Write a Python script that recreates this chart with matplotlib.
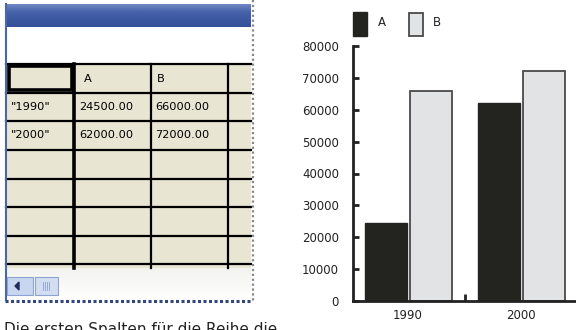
import matplotlib
matplotlib.use("Agg")
import matplotlib.pyplot as plt
from matplotlib.patches import Rectangle
from matplotlib.colors import LinearSegmentedColormap
import numpy as np

# ---- data ----
categories = ["1990", "2000"]
series_names = ["A", "B"]
values_a = [24500, 62000]
values_b = [66000, 72000]
y_ticks = [0, 10000, 20000, 30000, 40000, 50000, 60000, 70000, 80000]
caption = "Die ersten Spalten für die Reihe die"

W, H = 576, 330
fig = plt.figure(figsize=(W / 100, H / 100), dpi=100)
fig.patch.set_facecolor("white")

# ---- background / spreadsheet panel (pixel coordinates) ----
bg = fig.add_axes([0, 0, 1, 1])
bg.set_xlim(0, W)
bg.set_ylim(H, 0)
bg.axis("off")

grad = np.linspace(0, 1, 50).reshape(-1, 1)
cm_bar = LinearSegmentedColormap.from_list("bar", ["#6f87c2", "#4663aa", "#3b58a0", "#34519a"])
bg.imshow(grad, extent=(5, 251, 27, 4), cmap=cm_bar, aspect="auto", zorder=1)
bg.add_patch(Rectangle((5, 27), 246, 36, facecolor="white", edgecolor="none", zorder=1))
bg.plot([6, 6], [4, 300], color="#4a67ad", lw=1.5, zorder=3)

# grid area
bg.add_patch(Rectangle((6, 63), 245, 205, facecolor="#e8e5d3", edgecolor="none", zorder=1))
row_lines = [93, 121, 150, 179, 207, 236, 264]
for y in row_lines:
    bg.plot([6, 251], [y, y], color="black", lw=1.6, zorder=2)
bg.plot([6, 251], [64, 64], color="black", lw=1.6, zorder=2)
bg.plot([74, 74], [64, 268], color="black", lw=2.6, zorder=2)
for x in [151, 228]:
    bg.plot([x, x], [64, 268], color="black", lw=1.6, zorder=2)
bg.add_patch(Rectangle((9, 66), 63, 24, facecolor="none", edgecolor="black", lw=2.6, zorder=3))

tfont = dict(family="DejaVu Sans", fontsize=8.2, color="black", va="center", zorder=4)
bg.text(84, 79, series_names[0], **tfont)
bg.text(157, 79, series_names[1], **tfont)
row_centers = [107, 135.5]
for i, cat in enumerate(categories):
    bg.text(11, row_centers[i], '"%s"' % cat, **tfont)
    bg.text(79, row_centers[i], "%.2f" % values_a[i], **tfont)
    bg.text(155, row_centers[i], "%.2f" % values_b[i], **tfont)

# scrollbar area
cm_sb = LinearSegmentedColormap.from_list("sb", ["#f2f2ee", "#ffffff"])
bg.imshow(grad, extent=(6, 251, 299, 268), cmap=cm_sb, aspect="auto", zorder=1)
bg.add_patch(Rectangle((7, 277), 26, 18, facecolor="#c9d6ef", edgecolor="#8ea3cf", lw=0.8, zorder=3))
bg.add_patch(Rectangle((35, 277), 23, 18, facecolor="#d3ddf2", edgecolor="#8ea3cf", lw=0.8, zorder=3))
bg.fill([15, 19, 19], [286, 282, 290], color="#1d2c5c", zorder=4)
for x in [43, 45, 47, 49]:
    bg.plot([x, x], [282, 290], color="#8ea3cf", lw=0.6, zorder=4)

# dotted borders
bg.plot([252.5, 252.5], [0, 302], color="#888888", lw=1.6, ls=(0, (1, 1.2)), zorder=4)
bg.plot([5, 252], [301, 301], color="#33457a", lw=2.2, ls=(0, (1, 0.8)), zorder=4)

# caption partially visible at bottom (cut off as in the reference)
bg.text(4, 322, caption, fontsize=11, family="DejaVu Sans", color="#222222",
        va="top", ha="left", zorder=4, clip_on=True)

# ---- bar chart ----
ax_left, ax_right = 353 / W, 576 / W
ax_bottom, ax_top = (H - 301) / H, (H - 46) / H
ax = fig.add_axes([ax_left, ax_bottom, ax_right - ax_left, ax_top - ax_bottom])
ax.set_facecolor("none")
x = np.arange(len(categories))
w = 0.37
ax.bar(x - 0.195, values_a, w, color="#23241f", edgecolor="#23241f", lw=1.0, zorder=2)
ax.bar(x + 0.205, values_b, w, color="#e2e3e5", edgecolor="#4a4a4a", lw=1.3, zorder=2)
ax.set_xlim(-0.487, 1.487)
ax.set_ylim(0, 80000)
ax.set_yticks(y_ticks)
ax.set_yticklabels([str(v) for v in y_ticks])
ax.set_xticks([0.5])
ax.set_xticklabels([""])
ax.tick_params(axis="y", direction="in", length=4, width=2, color="#222222",
               labelsize=8.5, pad=10, labelcolor="#222222")
ax.tick_params(axis="x", direction="in", length=5, width=2, color="#222222")
for c, cat in enumerate(categories):
    ax.text(x[c], -2600, cat, ha="center", va="top", fontsize=8.5, color="#222222",
            clip_on=False)
for s in ["top", "right"]:
    ax.spines[s].set_visible(False)
for s in ["left", "bottom"]:
    ax.spines[s].set_linewidth(2)
    ax.spines[s].set_color("#222222")

# legend (pixel coords)
bg.add_patch(Rectangle((353, 12), 14, 24, facecolor="#23241f", edgecolor="#23241f", zorder=3))
bg.text(378, 23, series_names[0], fontsize=8.5, va="center", color="#222222", zorder=4)
bg.add_patch(Rectangle((409, 13), 14, 23, facecolor="#e2e3e5", edgecolor="#4a4a4a", lw=1.3, zorder=3))
bg.text(433, 23, series_names[1], fontsize=8.5, va="center", color="#222222", zorder=4)

fig.savefig("out.png", dpi=100)
